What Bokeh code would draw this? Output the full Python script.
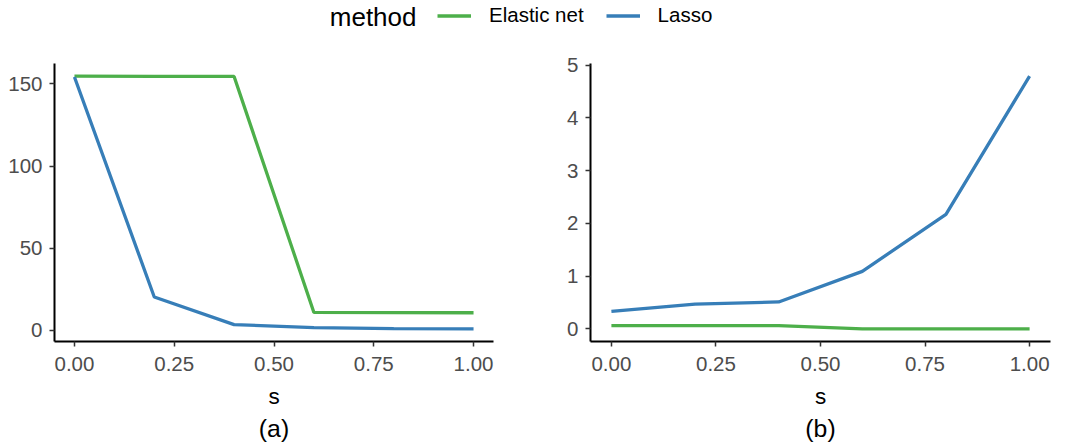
from bokeh.plotting import figure
from bokeh.models import (Range1d, FixedTicker, NumeralTickFormatter, Title, Legend, LegendItem, Label)
from bokeh.layouts import column, row
from bokeh.embed import file_html
from bokeh.resources import INLINE

# ---- data ----
s_vals = [0.0, 0.2, 0.4, 0.6, 0.8, 1.0]
a_elastic = [154.7, 154.6, 154.5, 10.9, 10.8, 10.7]
a_lasso = [154.2, 20.3, 3.5, 1.6, 1.1, 0.9]
b_elastic = [0.06, 0.06, 0.06, 0.0, 0.0, 0.0]
b_lasso = [0.33, 0.47, 0.51, 1.09, 2.17, 4.79]
x_ticks = [0.0, 0.25, 0.5, 0.75, 1.0]
a_yticks = [0, 50, 100, 150]
b_yticks = [0, 1, 2, 3, 4, 5]
panel_labels = ["(a)", "(b)"]
series_names = ["Elastic net", "Lasso"]
legend_title = "method"

GREEN = "#4DAF4A"
BLUE = "#377EB8"
FONT = "Liberation Sans"


def expand(vals, frac=0.05):
    lo, hi = min(vals), max(vals)
    pad = (hi - lo) * frac
    return lo - pad, hi + pad


def panel(elastic, lasso, yticks, label, width, bl, br):
    ylo, yhi = expand(elastic + lasso)
    xlo, xhi = expand(s_vals)
    p = figure(width=width, height=394, output_backend="svg", toolbar_location=None,
               x_range=Range1d(xlo, xhi), y_range=Range1d(ylo, yhi),
               min_border_left=bl, min_border_right=br, min_border_top=15, min_border_bottom=101)
    p.outline_line_color = None
    p.grid.visible = False
    p.line(s_vals, elastic, line_color=GREEN, line_width=3.3)
    p.line(s_vals, lasso, line_color=BLUE, line_width=3.3)
    p.xaxis.ticker = FixedTicker(ticks=x_ticks)
    p.xaxis.formatter = NumeralTickFormatter(format="0.00")
    p.yaxis.ticker = FixedTicker(ticks=yticks)
    for ax in (p.xaxis, p.yaxis):
        ax.axis_line_width = 2
        ax.axis_line_color = "black"
        ax.major_tick_line_color = "#333333"
        ax.major_tick_line_width = 1.5
        ax.major_tick_out = 5
        ax.major_tick_in = 0
        ax.minor_tick_line_color = None
        ax.major_label_text_font = FONT
        ax.major_label_text_font_size = "20.5px"
        ax.major_label_text_color = "#4D4D4D"
    p.xaxis.major_label_standoff = 10
    p.yaxis.major_label_standoff = 7
    p.xaxis.axis_label = "s"
    p.xaxis.axis_label_text_font = FONT
    p.xaxis.axis_label_text_font_size = "22.5px"
    p.xaxis.axis_label_text_font_style = "normal"
    p.xaxis.axis_label_text_color = "black"
    p.xaxis.axis_label_standoff = 10
    t = Title(text=label, align="center", text_font=FONT, text_font_size="24.8px",
              text_font_style="normal", text_color="black", standoff=2)
    p.add_layout(t, "below")
    return p


p1 = panel(a_elastic, a_lasso, a_yticks, panel_labels[0], 536, 54, 43)
p2 = panel(b_elastic, b_lasso, b_yticks, panel_labels[1], 529, 54, 15)

# legend strip
lg = figure(width=1065, height=48, output_backend="svg", toolbar_location=None,
            x_axis_type=None, y_axis_type=None, x_range=Range1d(0, 1), y_range=Range1d(0, 1),
            min_border=0)
lg.outline_line_color = None
lg.grid.visible = False
r1 = lg.line([5, 6], [5, 6], line_color=GREEN, line_width=3.3)
r2 = lg.line([5, 6], [5, 6], line_color=BLUE, line_width=3.3)
leg = Legend(items=[LegendItem(label=series_names[0], renderers=[r1]),
                    LegendItem(label=series_names[1], renderers=[r2])],
             orientation="horizontal", location=(437, 21), padding=0, margin=0,
             border_line_color=None, background_fill_alpha=0,
             glyph_width=34, glyph_height=23, label_height=23, label_standoff=18, spacing=22,
             label_text_font=FONT, label_text_font_size="20.5px", label_text_color="black")
lg.add_layout(leg, "center")
lg.add_layout(Label(x=416, y=32, x_units="screen", y_units="screen", text=legend_title,
                    text_align="right", text_baseline="middle", text_font=FONT,
                    text_font_size="26px", text_color="black"))

layout = column(lg, row(p1, p2))
open("out.html", "w").write(file_html(layout, INLINE))
